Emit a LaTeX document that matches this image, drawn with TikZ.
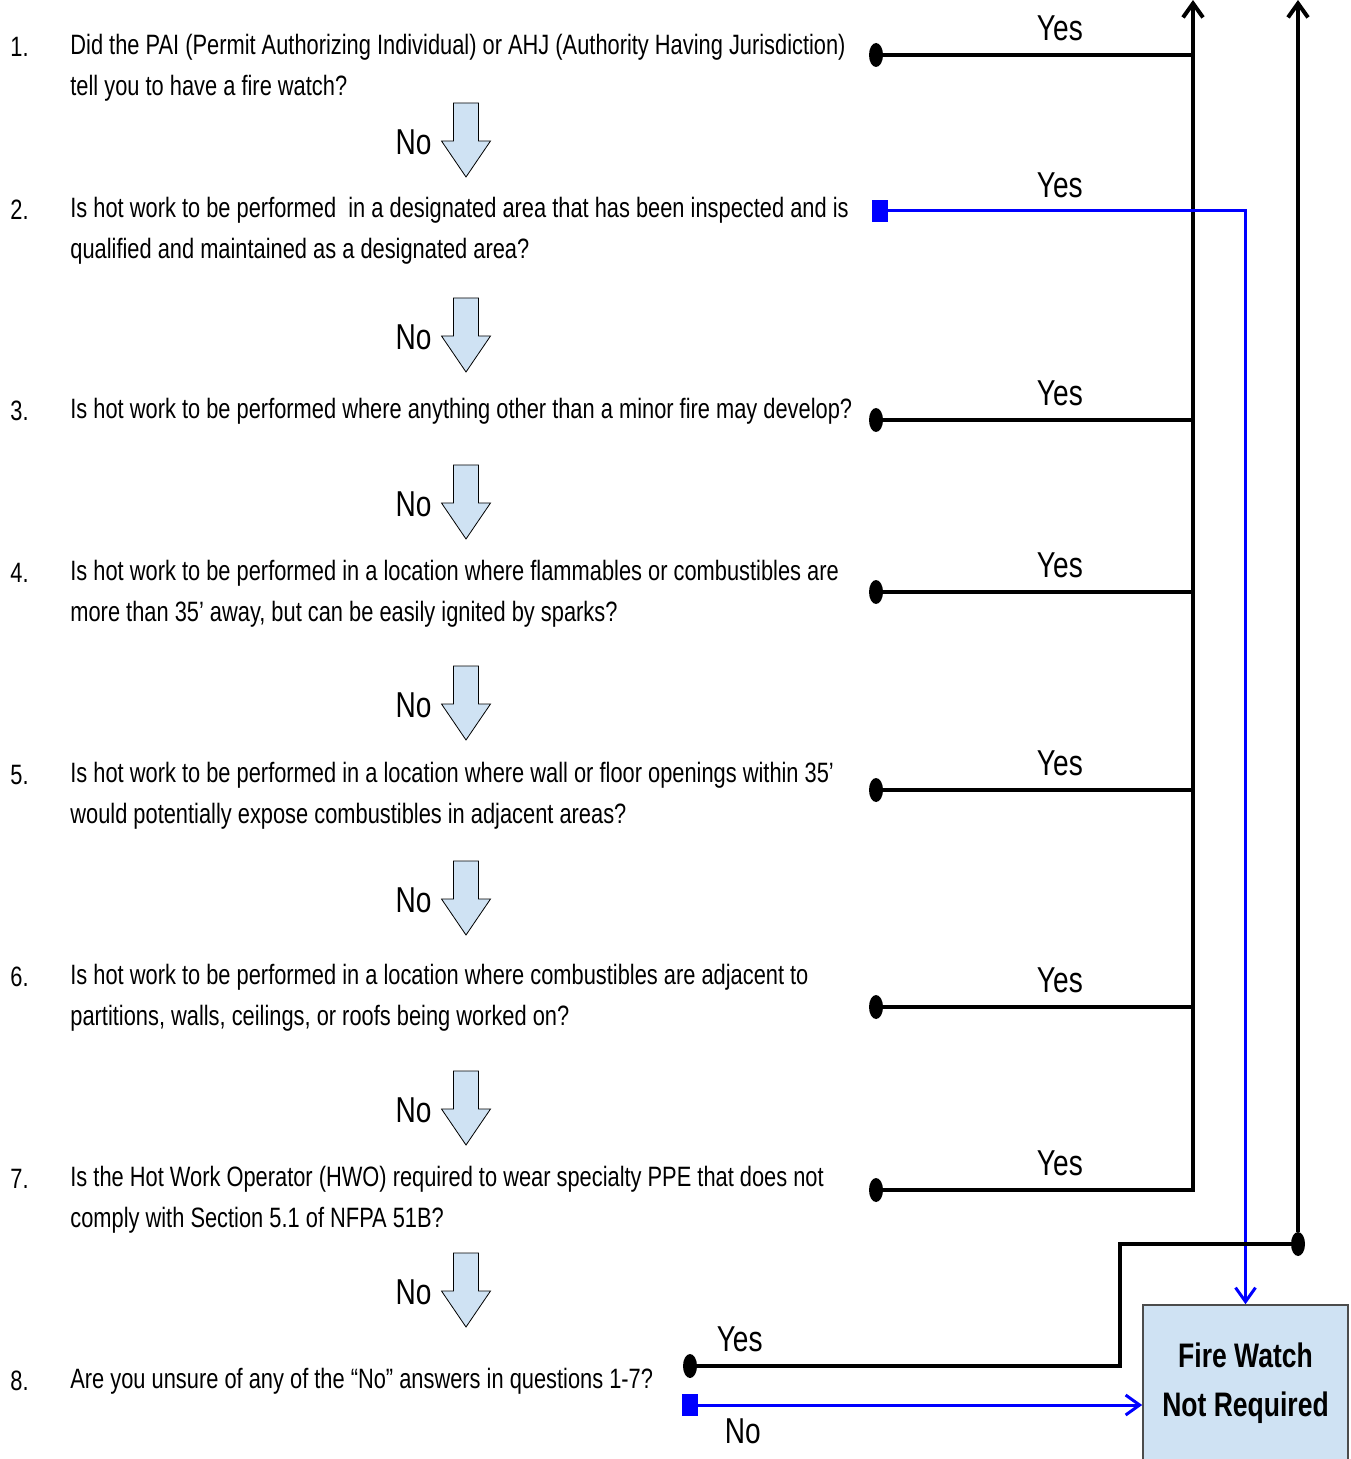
\documentclass[tikz,border=0pt]{standalone}
\usepackage{fontspec}
\setmainfont[FakeStretch=0.78]{Liberation Sans}
\usetikzlibrary{positioning,shapes.geometric,arrows.meta}
\definecolor{boxblue}{HTML}{CFE2F3}

\begin{document}
\begin{tikzpicture}[x=0.5pt, y=-0.5pt, >={Straight Barb[length=7pt,width=10pt]},
    question/.style={anchor=west, align=left, inner sep=0pt, font=\fontsize{14}{20.5}\selectfont},
    num/.style={anchor=west, inner sep=0pt, font=\fontsize{14}{20}\selectfont},
    answer/.style={inner sep=0pt, font=\fontsize{18}{20}\selectfont},
    downarrow/.style={draw=black, thin, fill=boxblue, line join=miter},
    yesline/.style={line width=2pt},
    noline/.style={line width=1.5pt, blue},
    dot/.style={ellipse, fill=black, inner sep=0pt, minimum width=7pt, minimum height=12pt},
    sq/.style={rectangle, fill=blue, inner sep=0pt, minimum width=8pt, minimum height=11pt}]
    \useasboundingbox (0,0) rectangle (1350,1459);

    \node[num] (n1) at (10, 47) {1.};
    \node[num] (n2) at (10, 210) {2.};
    \node[num] (n3) at (10, 411) {3.};
    \node[num] (n4) at (10, 573) {4.};
    \node[num] (n5) at (10, 775) {5.};
    \node[num] (n6) at (10, 977) {6.};
    \node[num] (n7) at (10, 1179) {7.};
    \node[num] (n8) at (10, 1381) {8.};

    \node[question] (q1) at (70, 68) {Did the PAI (Permit Authorizing Individual) or AHJ (Authority Having Jurisdiction)\\tell you to have a fire watch?};
    \node[question] (q2) at (70, 231) {Is hot work to be performed\ \ in a designated area that has been inspected and is\\qualified and maintained as a designated area?};
    \node[question] (q3) at (70, 411) {Is hot work to be performed where anything other than a minor fire may develop?};
    \node[question] (q4) at (70, 594) {Is hot work to be performed in a location where flammables or combustibles are\\more than 35’ away, but can be easily ignited by sparks?};
    \node[question] (q5) at (70, 796) {Is hot work to be performed in a location where wall or floor openings within 35’\\would potentially expose combustibles in adjacent areas?};
    \node[question] (q6) at (70, 998) {Is hot work to be performed in a location where combustibles are adjacent to\\partitions, walls, ceilings, or roofs being worked on?};
    \node[question] (q7) at (70, 1200) {Is the Hot Work Operator (HWO) required to wear specialty PPE that does not\\comply with Section 5.1 of NFPA 51B?};
    \node[question] (q8) at (70, 1381) {Are you unsure of any of the “No” answers in questions 1-7?};

    % No arrows between the questions
    \foreach \y [count=\i] in {140, 335, 502, 703, 898, 1108, 1290} {
        \coordinate (a\i) at (466, \y);
        \draw[downarrow] (a\i) ++(-12.5,-37) -- ++(25,0) -- ++(0,38) -- ++(12,0)
            -- ++(-24.5,36) -- ++(-24.5,-36) -- ++(12,0) -- cycle;
        \node[answer, anchor=east] (no\i) at ([xshift=-17pt, yshift=-1pt]a\i) {No};
    }

    \node[draw=black!70, thick, fill=boxblue, minimum width=102.5pt, minimum height=78pt,
        align=center, font=\bfseries\fontsize{17}{24.5}\selectfont] (fw) at (1245.5, 1383) {Fire Watch\\Not Required};

    % Yes branches
    \node[dot] (d1) at (876, 55) {};
    \node[sq] (s2) at (880, 211) {};
    \node[dot] (d3) at (876, 420) {};
    \node[dot] (d4) at (876, 592) {};
    \node[dot] (d5) at (876, 790) {};
    \node[dot] (d6) at (876, 1007) {};
    \node[dot] (d7) at (876, 1190) {};
    \node[dot] (d8) at (690, 1366) {};
    \node[sq] (s8) at (690, 1405) {};
    \node[dot] (dj) at (1298, 1244) {};

    \coordinate (top1) at (1193, 0);
    \coordinate (top2) at (1298, 0);
    \coordinate (c7) at (1193, 1190);
    \coordinate (k1) at (1120, 1366);
    \coordinate (k2) at (1120, 1244);

    \draw[yesline] (d1) -- node[answer, above=6pt, pos=0.57] {Yes} (d1 -| top1);
    \draw[yesline] (d3) -- node[answer, above=6pt, pos=0.57] {Yes} (d3 -| top1);
    \draw[yesline] (d4) -- node[answer, above=6pt, pos=0.57] {Yes} (d4 -| top1);
    \draw[yesline] (d5) -- node[answer, above=6pt, pos=0.57] {Yes} (d5 -| top1);
    \draw[yesline] (d6) -- node[answer, above=6pt, pos=0.57] {Yes} (d6 -| top1);
    \draw[yesline, ->] (d7) -- node[answer, above=6pt, pos=0.57] {Yes} (c7) -- (top1);
    \draw[noline, ->] (s2) -- node[answer, black, above=6pt, pos=0.48] {Yes} (s2 -| fw.north) -- (fw.north);

    \draw[yesline] (d8) -- node[answer, above=6pt, pos=0.1] {Yes} (k1) -- (k2) -- (dj);
    \draw[yesline, ->] (dj) -- (top2);
    \draw[noline, ->] (s8) -- node[answer, black, below=6pt, pos=0.1] {No} (s8 -| fw.west);
\end{tikzpicture}
\end{document}
